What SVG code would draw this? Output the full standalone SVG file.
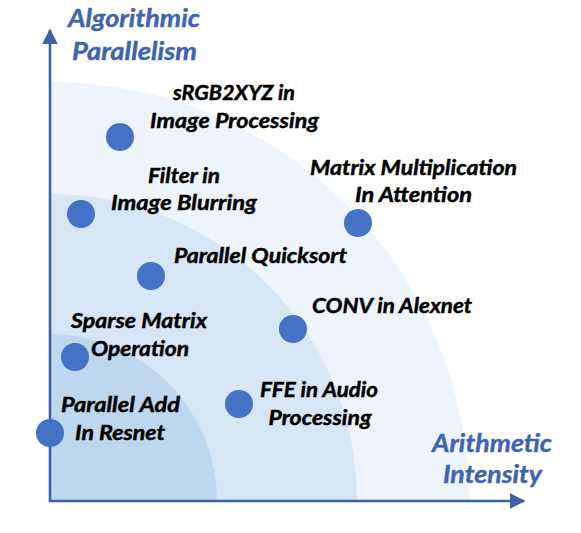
<svg xmlns="http://www.w3.org/2000/svg" width="581" height="533" viewBox="0 0 581 533">
<style>
.lbl{font-family:Lato,"Open Sans","Liberation Sans",sans-serif;font-weight:bold;font-style:italic;font-size:21px;fill:#000;stroke:#000;stroke-width:0.45px;text-anchor:middle}
.ax{font-family:Lato,"Open Sans","Liberation Sans",sans-serif;font-weight:bold;font-style:italic;font-size:24px;fill:#3F64AD;stroke:#3F64AD;stroke-width:0.4px;text-anchor:middle}
.dot{fill:#4472C4}
.axis{stroke:#3F62A7;stroke-width:2.6;fill:none}
</style>
<defs>
<marker id="arr" viewBox="0 0 10 10" refX="9" refY="5" markerWidth="6" markerHeight="6" markerUnits="strokeWidth" orient="auto">
<path d="M0,0 L10,5 L0,10 Z" fill="#3F62A7"/>
</marker>
</defs>
<rect width="581" height="533" fill="#fff"/>
<g id="regions">
<path d="M50,82 A419,419 0 0 1 469,501 L50,501 Z" fill="#EEF4FB"/>
<path d="M50,194 A307,307 0 0 1 357,501 L50,501 Z" fill="#D7E6F4"/>
<path d="M50,334 A167,167 0 0 1 217,501 L50,501 Z" fill="#BDD7EE"/>
</g>
<g id="connectors">
<path class="axis" d="M50,502 L50,30" marker-end="url(#arr)"/>
<path class="axis" d="M49,501 L524,501" marker-end="url(#arr)"/>
</g>
<g id="axis-y-label">
<text class="ax" x="134" y="27" textLength="132" lengthAdjust="spacingAndGlyphs">Algorithmic</text>
<text class="ax" x="134.5" y="60" textLength="125" lengthAdjust="spacingAndGlyphs">Parallelism</text>
</g>
<g id="axis-x-label">
<text class="ax" x="492" y="452" textLength="120" lengthAdjust="spacingAndGlyphs">Arithmetic</text>
<text class="ax" x="492.5" y="483" textLength="99" lengthAdjust="spacingAndGlyphs">Intensity</text>
</g>
<g id="srgb2xyz">
<circle class="dot" cx="120" cy="137" r="14"/>
<text class="lbl" x="234" y="100" textLength="122" lengthAdjust="spacingAndGlyphs">sRGB2XYZ in</text>
<text class="lbl" x="234.5" y="128" textLength="169" lengthAdjust="spacingAndGlyphs">Image Processing</text>
</g>
<g id="filter">
<circle class="dot" cx="81" cy="214" r="14"/>
<text class="lbl" x="184" y="183" textLength="72" lengthAdjust="spacingAndGlyphs">Filter in</text>
<text class="lbl" x="184" y="210" textLength="146" lengthAdjust="spacingAndGlyphs">Image Blurring</text>
</g>
<g id="matmul">
<circle class="dot" cx="358" cy="223" r="14"/>
<text class="lbl" x="413.5" y="175" textLength="207" lengthAdjust="spacingAndGlyphs">Matrix Multiplication</text>
<text class="lbl" x="413.5" y="202" textLength="117" lengthAdjust="spacingAndGlyphs">In Attention</text>
</g>
<g id="quicksort">
<circle class="dot" cx="151" cy="276" r="14"/>
<text class="lbl" x="260.5" y="263" textLength="173" lengthAdjust="spacingAndGlyphs">Parallel Quicksort</text>
</g>
<g id="conv">
<circle class="dot" cx="293" cy="329" r="14"/>
<text class="lbl" x="392" y="313" textLength="160" lengthAdjust="spacingAndGlyphs">CONV in Alexnet</text>
</g>
<g id="sparse">
<circle class="dot" cx="75" cy="357" r="14"/>
<text class="lbl" x="139" y="328" textLength="136" lengthAdjust="spacingAndGlyphs">Sparse Matrix</text>
<text class="lbl" x="140" y="356" textLength="98" lengthAdjust="spacingAndGlyphs">Operation</text>
</g>
<g id="ffe">
<circle class="dot" cx="239" cy="404" r="14"/>
<text class="lbl" x="319" y="397" textLength="118" lengthAdjust="spacingAndGlyphs">FFE in Audio</text>
<text class="lbl" x="320" y="425" textLength="103" lengthAdjust="spacingAndGlyphs">Processing</text>
</g>
<g id="paradd">
<circle class="dot" cx="50" cy="433" r="14"/>
<text class="lbl" x="120.5" y="412" textLength="119" lengthAdjust="spacingAndGlyphs">Parallel Add</text>
<text class="lbl" x="120" y="440" textLength="90" lengthAdjust="spacingAndGlyphs">In Resnet</text>
</g>
</svg>
